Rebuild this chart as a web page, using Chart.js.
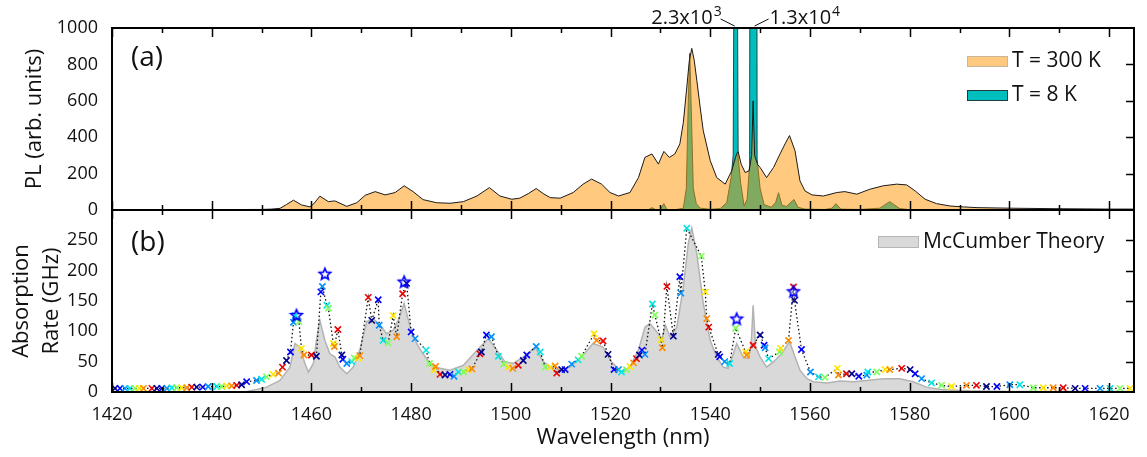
<!DOCTYPE html>
<html lang="en">
<head>
  <meta charset="UTF-8">
  <title>PL and absorption spectra</title>
  <style>
    body { margin: 0; background: #fff; }
    #wrap { width: 1147px; height: 457px; }
  </style>
</head>
<body>

<div id="wrap">
  <canvas id="spectra" width="1147" height="457"></canvas>
</div>

<script src="https://cdn.jsdelivr.net/npm/chart.js"></script>
<script>
  // ---- panel (a): photoluminescence ----
  const plWl = [
    1420, 1430, 1440, 1445, 1448, 1450, 1452, 1453.7, 1455, 1456.4,
    1458, 1459.7, 1460.5, 1461.7, 1463.4, 1464.7, 1467.1, 1469.1, 1470.8, 1472.8,
    1474.8, 1476.8, 1478.6, 1480.4, 1482.4, 1485.1, 1487.8, 1490.5, 1493.2, 1495.7,
    1497.8, 1500.2, 1501.8, 1503.5, 1505.1, 1506.5, 1507.9, 1509.9, 1512.5, 1514.5,
    1516.2, 1518.2, 1519.9, 1521.6, 1523.9, 1525.6, 1526.9, 1528.3, 1529.6, 1530.7,
    1531.8, 1532.9, 1533.9, 1534.6, 1535.3, 1535.8, 1536.3, 1536.8, 1537.3, 1538.0,
    1538.6, 1540, 1541.3, 1543, 1544.3, 1545.3, 1545.6, 1546.2, 1547.0, 1547.8,
    1548.3, 1548.6, 1548.9, 1549.5, 1550, 1551.3, 1552.7, 1554, 1555, 1555.9,
    1557, 1558, 1559, 1560.4, 1562.7, 1565.4, 1567, 1569.4, 1572, 1574.7,
    1577.4, 1579.4, 1581.1, 1583.1, 1585.4, 1588.1, 1590.8, 1593.5, 1600, 1610,
    1620, 1625
  ];
  const pl300K = [
    1, 1, 1, 2, 3, 3, 5, 9, 30, 54,
    28, 17, 35, 76, 46, 50, 20, 40, 81, 101,
    83, 96, 133, 101, 57, 40, 37, 46, 77, 123,
    77, 59, 65, 90, 118, 90, 68, 65, 96, 142,
    170, 142, 96, 77, 96, 178, 289, 308, 252, 322,
    289, 308, 363, 480, 676, 820, 888, 820, 713, 560,
    436, 271, 178, 142, 215, 310, 320, 252, 206, 215,
    300, 600, 300, 250, 234, 178, 234, 308, 363, 409,
    326, 160, 105, 83, 77, 96, 101, 87, 114, 133,
    142, 138, 105, 59, 35, 22, 17, 13, 10, 7,
    5, 5
  ];
  const pl8KWl = [
    1420, 1526, 1527.6, 1528.3, 1529, 1530, 1530.7, 1531.3, 1533, 1534.6,
    1535.2, 1535.6, 1535.9, 1536.2, 1536.6, 1537.2, 1538, 1540, 1542, 1543.3,
    1544.2, 1544.6, 1544.9, 1545.3, 1545.6, 1546.1, 1546.8, 1547.4, 1547.9, 1548.35,
    1549.05, 1549.4, 1550, 1550.8, 1552.2, 1553.1, 1553.7, 1554.4, 1555.3, 1556.8,
    1557.6, 1559, 1563, 1564.4, 1565.2, 1566.2, 1570, 1574, 1576, 1578,
    1580, 1625
  ];
  const pl8K = [
    0, 0, 2, 13, 2, 3, 35, 3, 2, 10,
    120, 600, 860, 550, 120, 35, 10, 4, 8, 40,
    180, 300, 2300, 2300, 290, 150, 22, 60, 250, 13000,
    13000, 280, 120, 30, 15, 40, 95, 25, 20, 58,
    15, 5, 3, 10, 35, 5, 3, 10, 46, 8,
    2, 0
  ];

  // ---- panel (b): absorption rate ----
  const mcWl = [
    1420, 1446, 1447, 1449, 1451, 1453.7, 1455.7, 1456.7, 1457.7, 1458.7,
    1459.4, 1460.4, 1461, 1461.7, 1462.7, 1463.7, 1464.7, 1465.7, 1467.1, 1468.4,
    1469.7, 1471.1, 1472.4, 1473.8, 1475.1, 1476.4, 1477.4, 1478.6, 1479.8, 1481.1,
    1482.4, 1483.8, 1485.8, 1487.8, 1490.5, 1493.2, 1495.5, 1497.2, 1498.8, 1500.5,
    1502.5, 1504.9, 1506.5, 1508.9, 1511.9, 1514.5, 1516.5, 1518.5, 1520.2, 1522.2,
    1523.9, 1525.6, 1526.9, 1527.9, 1529.3, 1530.3, 1531, 1531.9, 1533.3, 1534.6,
    1535.6, 1536.3, 1537.3, 1538.6, 1540, 1541.3, 1542.6, 1543.6, 1544.5, 1545.3,
    1546.6, 1547.6, 1548.2, 1548.6, 1549.1, 1550, 1551.3, 1552.7, 1554.3, 1555.9,
    1557, 1558, 1559.4, 1560.7, 1563.4, 1566, 1568.7, 1571.4, 1574.7, 1578,
    1580.7, 1583.4, 1586.1, 1588.8, 1592, 1600, 1625
  ];
  const mcRate = [
    0, 0, 1, 4, 8, 19, 41, 80, 74, 47,
    33, 47, 85, 118, 85, 63, 58, 41, 30, 41,
    69, 116, 121, 110, 96, 102, 118, 146, 107, 80,
    63, 47, 39, 36, 44, 69, 88, 69, 50, 47,
    58, 74, 50, 36, 41, 61, 80, 74, 50, 33,
    41, 69, 107, 113, 99, 88, 110, 91, 107, 173,
    245, 270, 228, 146, 85, 58, 41, 39, 60, 80,
    58, 55, 75, 143, 74, 58, 41, 50, 63, 83,
    58, 36, 22, 17, 15, 18, 17, 19, 22, 22,
    17, 8, 4, 3, 2, 1, 1
  ];
  const measWl = [
    1420.6, 1421.6, 1422.6, 1423.6, 1424.6, 1425.5, 1426.3, 1428, 1429, 1430,
    1431, 1432, 1433, 1434, 1435, 1436, 1437, 1438.2, 1439.3, 1441,
    1442, 1443, 1444, 1445, 1446, 1447, 1449, 1450, 1451, 1452.3,
    1453.4, 1454.2, 1455, 1455.8, 1456.4, 1456.8, 1457.5, 1458, 1458.5, 1460,
    1461, 1461.9, 1462.2, 1463.1, 1463.4, 1464.4, 1464.6, 1465.3, 1466.1, 1466.3,
    1467.1, 1468.1, 1468.6, 1469.4, 1469.7, 1471.4, 1472.1, 1473.4, 1473.6, 1474.4,
    1475.4, 1476.4, 1477.1, 1478.3, 1479.1, 1480, 1480.8, 1483, 1483.7, 1484.6,
    1484.9, 1485.8, 1486.8, 1487.8, 1488.6, 1489.5, 1490.5, 1491.5, 1492.2, 1493.8,
    1494.1, 1495.1, 1496.1, 1497.5, 1498.6, 1499.5, 1500.4, 1501.5, 1502.5, 1503.2,
    1505.1, 1505.9, 1506.9, 1507.9, 1508.9, 1509.2, 1510.2, 1510.9, 1512.2, 1513.5,
    1514.2, 1516.7, 1517.2, 1518.5, 1519.5, 1520.7, 1521.6, 1522.2, 1523.2, 1523.9,
    1524.6, 1525.2, 1525.8, 1526.3, 1526.9, 1528.4, 1528.9, 1530.1, 1530.4, 1531.3,
    1532.6, 1533.9, 1534.1, 1535.3, 1538.2, 1539, 1539.3, 1539.7, 1541.6, 1541.9,
    1542.9, 1543.9, 1545.1, 1547.1, 1547.3, 1548.6, 1550, 1550.8, 1551, 1551.7,
    1553.9, 1554.1, 1555.7, 1556.7, 1556.9, 1558.3, 1560.1, 1561.7, 1563, 1565.5,
    1565.7, 1567.3, 1568.4, 1569.8, 1571.4, 1571.6, 1573.4, 1575.1, 1576, 1578.4,
    1580.1, 1581.1, 1582.4, 1584.4, 1586.4, 1588.4, 1591.4, 1593.4, 1595.4, 1597.5,
    1600.1, 1602.1, 1604.8, 1606.8, 1608.8, 1610.8, 1613.2, 1615.2, 1618.2, 1620.2,
    1622.2, 1624.2
  ];
  const measRate = [
    6, 6, 6, 6, 6, 6, 6, 6, 6, 6,
    6, 7, 7, 7, 7, 8, 8, 8, 9, 9,
    9, 10, 10, 11, 12, 17, 19, 21, 25, 29,
    31, 41, 52, 66, 115, 126, 116, 72, 61, 61,
    59, 165, 174, 143, 138, 80, 75, 103, 61, 54,
    47, 50, 56, 56, 60, 156, 118, 152, 110, 85,
    81, 126, 91, 162, 179, 99, 88, 69, 47, 36,
    42, 29, 28, 29, 26, 33, 33, 37, 38, 63,
    66, 94, 91, 59, 46, 41, 39, 44, 52, 61,
    75, 66, 41, 41, 43, 31, 37, 37, 46, 53,
    59, 96, 85, 84, 62, 37, 37, 33, 37, 42,
    48, 55, 61, 69, 62, 145, 127, 86, 73, 174,
    92, 190, 163, 270, 224, 165, 121, 107, 62, 58,
    50, 47, 105, 66, 61, 77, 94, 77, 73, 55,
    66, 72, 85, 173, 151, 70, 33, 25, 24, 39,
    28, 30, 30, 26, 28, 33, 33, 37, 37, 39,
    37, 30, 22, 15, 11, 9, 11, 11, 9, 9,
    12, 12, 7, 7, 7, 7, 6, 6, 6, 6,
    6, 6
  ];
  const starWl = [1457.0, 1462.7, 1478.6, 1545.3, 1556.7];
  const starRate = [127, 195, 182, 121, 166];

  // tick labels
  const xTickLabels = [1420, 1440, 1460, 1480, 1500, 1520, 1540, 1560, 1580, 1600, 1620];
  const plTicks = [0, 200, 400, 600, 800, 1000];
  const rateTicks = [0, 50, 100, 150, 200, 250];

  const FONT = '"Open Sans", "Noto Sans", sans-serif';
  const markerColors = ['#00008f', '#0000ff', '#0090ff', '#00e5e5', '#7dff5a', '#ffe600', '#ff8a00', '#f00000'];

  const pts = (xs, ys) => xs.map((x, i) => ({ x: x, y: ys[i] }));
  const plain = v => String(v);

  function makeStar(r, color) {
    const c = document.createElement('canvas');
    const s = Math.ceil(r * 2 + 4);
    c.width = s; c.height = s;
    const g = c.getContext('2d');
    g.beginPath();
    for (let i = 0; i < 10; i++) {
      const a = -Math.PI / 2 + i * Math.PI / 5;
      const rr = i % 2 ? r * 0.45 : r;
      const px = s / 2 + rr * Math.cos(a), py = s / 2 + 0.6 + rr * Math.sin(a);
      if (i === 0) g.moveTo(px, py); else g.lineTo(px, py);
    }
    g.closePath();
    g.strokeStyle = color;
    g.lineWidth = 1.6;
    g.stroke();
    return c;
  }

  function superText(ctx, base, sup, x, y, align) {
    ctx.font = '20px ' + FONT;
    const wb = ctx.measureText(base).width;
    ctx.font = '14px ' + FONT;
    const ws = ctx.measureText(sup).width;
    const x0 = align === 'right' ? x - wb - ws : x;
    ctx.textAlign = 'left';
    ctx.textBaseline = 'alphabetic';
    ctx.font = '20px ' + FONT;
    ctx.fillText(base, x0, y);
    ctx.font = '14px ' + FONT;
    ctx.fillText(sup, x0 + wb + 1, y - 8);
  }

  // frames, inward ticks, legends and labels
  const decorations = {
    id: 'decorations',
    afterDatasetsDraw(chart) {
      const { ctx, chartArea, scales } = chart;
      const xs = scales.x;
      const L = chartArea.left, R = chartArea.right;
      ctx.save();
      [scales.yPL, scales.yAbs].forEach(ys => {
        ctx.strokeStyle = '#000';
        ctx.lineWidth = 2;
        ctx.strokeRect(L, ys.top, R - L, ys.bottom - ys.top);
        ctx.lineWidth = 1.5;
        ctx.beginPath();
        for (let v = xs.min; v <= xs.max; v += 10) {
          const px = Math.round(xs.getPixelForValue(v)) + 0.5;
          const len = v % 20 === 0 ? 9 : 5;
          ctx.moveTo(px, ys.top); ctx.lineTo(px, ys.top + len);
          ctx.moveTo(px, ys.bottom); ctx.lineTo(px, ys.bottom - len);
        }
        ys.ticks.forEach(t => {
          if (t.value <= ys.min || t.value >= ys.max) return;
          const py = Math.round(ys.getPixelForValue(t.value)) + 0.5;
          ctx.moveTo(R, py); ctx.lineTo(R - 8, py);
        });
        ctx.stroke();
      });
      ctx.restore();
    },
    afterDraw(chart) {
      const { ctx, chartArea, scales } = chart;
      const xs = scales.x, yA = scales.yPL, yB = scales.yAbs;
      const R = chartArea.right;
      ctx.save();
      ctx.fillStyle = '#111';

      // panel labels
      ctx.font = '28px ' + FONT;
      ctx.textBaseline = 'middle';
      ctx.textAlign = 'left';
      ctx.fillText('(a)', chartArea.left + 19, yA.top + 30);
      ctx.fillText('(b)', chartArea.left + 19, yB.top + 33);

      // legend (a)
      const bx = R - 167;
      ctx.lineWidth = 1;
      ctx.fillStyle = 'rgba(255,150,0,0.5)';
      ctx.fillRect(bx, yA.top + 28, 40, 10);
      ctx.strokeStyle = '#c9b79a';
      ctx.strokeRect(bx + 0.5, yA.top + 28.5, 40, 10);
      ctx.fillStyle = '#00bebe';
      ctx.fillRect(bx, yA.top + 62, 40, 10);
      ctx.strokeStyle = '#1d3d3d';
      ctx.strokeRect(bx + 0.5, yA.top + 62.5, 40, 10);
      ctx.fillStyle = '#111';
      ctx.font = '21px ' + FONT;
      ctx.textBaseline = 'middle';
      ctx.fillText('T = 300 K', bx + 45, yA.top + 33);
      ctx.fillText('T = 8 K', bx + 45, yA.top + 67);

      // legend (b)
      const gx = R - 256;
      ctx.fillStyle = '#d9d9d9';
      ctx.fillRect(gx, yB.top + 26, 40, 11);
      ctx.strokeStyle = '#b5b5b5';
      ctx.strokeRect(gx + 0.5, yB.top + 26.5, 40, 11);
      ctx.fillStyle = '#111';
      ctx.fillText('McCumber Theory', gx + 45, yB.top + 32);

      // off-scale peak annotations
      const p1 = xs.getPixelForValue(1545.1), p2 = xs.getPixelForValue(1548.7);
      const top = yA.top;
      ctx.strokeStyle = '#111';
      ctx.lineWidth = 1;
      ctx.beginPath();
      ctx.moveTo(p1 - 1, top - 2); ctx.lineTo(p1 - 15, top - 9);
      ctx.moveTo(p2 + 1, top - 2); ctx.lineTo(p2 + 15, top - 9);
      ctx.stroke();
      superText(ctx, '2.3x10', '3', p1 - 15, top - 4, 'right');
      superText(ctx, '1.3x10', '4', p2 + 16, top - 4, 'left');
      ctx.restore();
    }
  };

  const data = {
    datasets: [
      {
        label: 'T = 300 K',
        data: pts(plWl, pl300K),
        yAxisID: 'yPL',
        fill: 'origin',
        backgroundColor: 'rgba(255,150,0,0.5)',
        borderColor: '#1a1a1a',
        borderWidth: 1,
        pointRadius: 0,
        order: 5
      },
      {
        label: 'T = 8 K',
        data: pts(pl8KWl, pl8K),
        yAxisID: 'yPL',
        fill: 'origin',
        backgroundColor: '#00bebe',
        borderColor: 'rgba(20,60,60,0.9)',
        borderWidth: 1,
        pointRadius: 0,
        order: 6
      },
      {
        label: 'McCumber Theory',
        data: pts(mcWl, mcRate),
        yAxisID: 'yAbs',
        fill: 'origin',
        backgroundColor: '#d9d9d9',
        borderColor: '#b3b3b3',
        borderWidth: 1.5,
        pointRadius: 0,
        order: 4
      },
      {
        label: 'Measured',
        data: pts(measWl, measRate),
        yAxisID: 'yAbs',
        fill: false,
        borderColor: '#111',
        borderWidth: 1.3,
        borderDash: [1.5, 2.5],
        pointStyle: 'crossRot',
        pointRadius: 4.4,
        pointBorderWidth: 1.6,
        pointBorderColor: ctx => markerColors[ctx.dataIndex % markerColors.length],
        order: 2
      },
      {
        label: 'Peak',
        data: pts(starWl, starRate),
        yAxisID: 'yAbs',
        showLine: false,
        pointStyle: makeStar(6, '#0000ff'),
        pointRadius: 6,
        order: 1
      }
    ]
  };

  const config = {
    type: 'line',
    data: data,
    options: {
      responsive: false,
      animation: false,
      devicePixelRatio: 1,
      layout: { padding: { left: 0, right: 13, top: 28, bottom: 0 } },
      elements: { line: { tension: 0 } },
      plugins: {
        legend: { display: false },
        tooltip: { enabled: false }
      },
      scales: {
        x: {
          type: 'linear',
          position: 'bottom',
          min: 1420,
          max: 1625,
          afterFit: s => { s.height = 65; },
          afterBuildTicks: s => { s.ticks = xTickLabels.map(v => ({ value: v })); },
          grid: { display: false },
          border: { display: false },
          ticks: {
            color: '#111',
            padding: 4,
            maxRotation: 0,
            autoSkip: false,
            callback: plain,
            font: { family: FONT, size: 18 }
          },
          title: {
            display: true,
            text: 'Wavelength (nm)',
            color: '#111',
            padding: { top: 0, bottom: 6 },
            font: { family: FONT, size: 22 }
          }
        },
        yPL: {
          type: 'linear',
          position: 'left',
          stack: 'panels',
          stackWeight: 1,
          weight: 1,
          min: 0,
          max: 1000,
          afterFit: s => { s.width = 112; },
          afterBuildTicks: s => { s.ticks = plTicks.map(v => ({ value: v })); },
          grid: { display: false },
          border: { display: false },
          ticks: {
            color: '#111',
            padding: 6,
            autoSkip: false,
            callback: plain,
            font: { family: FONT, size: 18 }
          },
          title: {
            display: true,
            text: 'PL (arb. units)',
            color: '#111',
            padding: { top: 22, bottom: 0 },
            font: { family: FONT, size: 22 }
          }
        },
        yAbs: {
          type: 'linear',
          position: 'left',
          stack: 'panels',
          stackWeight: 1,
          weight: 0,
          min: 0,
          max: 300,
          afterFit: s => { s.width = 112; },
          afterBuildTicks: s => { s.ticks = rateTicks.map(v => ({ value: v })); },
          grid: { display: false },
          border: { display: false },
          ticks: {
            color: '#111',
            padding: 6,
            autoSkip: false,
            callback: plain,
            font: { family: FONT, size: 18 }
          },
          title: {
            display: true,
            text: ['Absorption', 'Rate (GHz)'],
            color: '#111',
            padding: { top: 7, bottom: 0 },
            font: { family: FONT, size: 22, lineHeight: 1.36 }
          }
        }
      }
    },
    plugins: [decorations]
  };

  const ctx = document.getElementById('spectra').getContext('2d');
  const spectraChart = new Chart(ctx, config);
</script>

</body>
</html>
